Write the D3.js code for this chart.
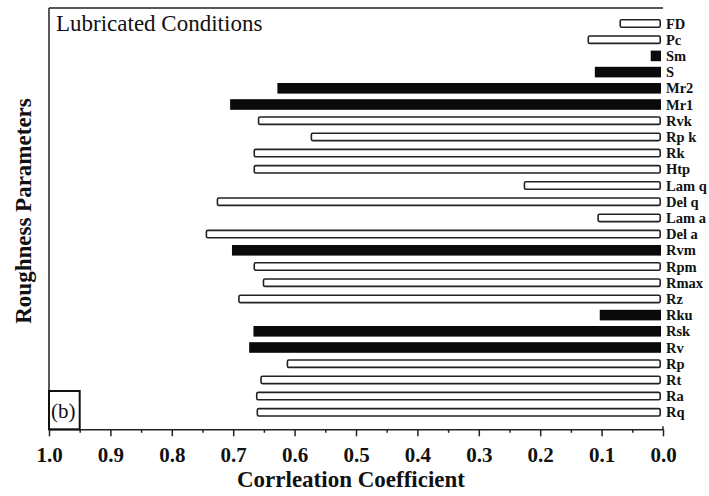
<!DOCTYPE html>
<html>
<head>
<meta charset="utf-8">
<script src="https://cdn.jsdelivr.net/npm/d3@7"></script>
<style>
  body { margin: 0; background: #fff; }
  text { font-family: "Liberation Serif", "Times New Roman", Times, serif; fill: #111; }
</style>
</head>
<body>
<div id="chart"></div>
<script>
'use strict';

// roughness parameters, top to bottom as in the figure
var params = ["FD", "Pc", "Sm", "S", "Mr2", "Mr1", "Rvk", "Rp k", "Rk", "Htp",
    "Lam q", "Del q", "Lam a", "Del a", "Rvm", "Rpm", "Rmax", "Rz", "Rku",
    "Rsk", "Rv", "Rp", "Rt", "Ra", "Rq"];

// correlation coefficient (magnitude)
var corr = [0.071, 0.123, 0.020, 0.111, 0.628, 0.705, 0.660, 0.574, 0.667, 0.667,
    0.227, 0.727, 0.107, 0.745, 0.702, 0.667, 0.652, 0.692, 0.103,
    0.667, 0.674, 0.613, 0.656, 0.663, 0.662];

// these are drawn as solid bars, the rest hollow
var filledParams = ["Sm", "S", "Mr2", "Mr1", "Rvm", "Rku", "Rsk", "Rv"];

var majorTicks = [1.0, 0.9, 0.8, 0.7, 0.6, 0.5, 0.4, 0.3, 0.2, 0.1, 0.0];
var minorTicks = [0.95, 0.85, 0.75, 0.65, 0.55, 0.45, 0.35, 0.25, 0.15, 0.05];

var serif = '"Liberation Serif", "Times New Roman", Times, serif';

var svgW = 709, svgH = 496,
    plotLeft = 49, plotRight = 663, frameTop = 8, axisY = 429.3;

var svg = d3.select("#chart").append("svg")
    .attr("width", svgW)
    .attr("height", svgH);

var x = d3.scaleLinear().domain([1, 0]).range([plotLeft, plotRight]);

var y = d3.scaleBand()
    .domain(params)
    .range([15.4, 420.4])
    .padding(0);

var rows = params.map(function(p, i) {
    return { name: p, value: corr[i], filled: filledParams.indexOf(p) >= 0 };
});

// bars
var bars = svg.append("g").attr("class", "bars");

bars.selectAll("rect.solid")
    .data(rows.filter(function(d) { return d.filled; }))
    .enter().append("rect")
    .attr("class", "solid")
    .attr("x", function(d) { return x(d.value); })
    .attr("width", function(d) { return x(0) - x(d.value) - 2; })
    .attr("y", function(d) { return y(d.name) + y.bandwidth() / 2 - 5.3; })
    .attr("height", 10.6)
    .style("fill", "#0a0a0a");

bars.selectAll("rect.hollow")
    .data(rows.filter(function(d) { return !d.filled; }))
    .enter().append("rect")
    .attr("class", "hollow")
    .attr("x", function(d) { return x(d.value) + 0.8; })
    .attr("width", function(d) { return x(0) - x(d.value) - 3.6; })
    .attr("y", function(d) { return y(d.name) + y.bandwidth() / 2 - 3.7; })
    .attr("height", 7.4)
    .attr("rx", 1.5)
    .style("fill", "#fff")
    .style("stroke", "#222")
    .style("stroke-width", 1.6);

// parameter names to the right of the bars
svg.append("g").selectAll("text")
    .data(params)
    .enter().append("text")
    .attr("x", plotRight + 3)
    .attr("y", function(d) { return y(d) + y.bandwidth() / 2 + 5; })
    .style("font-family", serif)
    .style("font-size", "14.5px")
    .style("font-weight", "bold")
    .text(function(d) { return d; });

// frame: top and left lines
svg.append("line")
    .attr("x1", plotLeft).attr("x2", plotRight)
    .attr("y1", frameTop).attr("y2", frameTop)
    .style("stroke", "#222").style("stroke-width", 1.5);

svg.append("line")
    .attr("x1", plotLeft).attr("x2", plotLeft)
    .attr("y1", frameTop).attr("y2", axisY)
    .style("stroke", "#222").style("stroke-width", 1.5);

// bottom axis
var xAxis = svg.append("g")
    .attr("transform", "translate(0," + axisY + ")")
    .call(d3.axisBottom(x)
        .tickValues(majorTicks)
        .tickSize(7)
        .tickSizeOuter(0)
        .tickFormat(d3.format(".1f")));

xAxis.select(".domain").style("stroke", "#222").style("stroke-width", 1.5);
xAxis.selectAll(".tick line").style("stroke", "#222").style("stroke-width", 1.5);
xAxis.selectAll(".tick text")
    .attr("y", 33).attr("dy", 0)
    .style("font-family", serif)
    .style("font-size", "21px")
    .style("font-weight", "bold")
    .style("fill", "#111");

var xMinor = svg.append("g")
    .attr("transform", "translate(0," + axisY + ")")
    .call(d3.axisBottom(x)
        .tickValues(minorTicks)
        .tickSize(3.5)
        .tickSizeOuter(0)
        .tickFormat(""));

xMinor.select(".domain").remove();
xMinor.selectAll(".tick line").style("stroke", "#222").style("stroke-width", 1.5);

// little upturn at the 0.0 end
svg.append("line")
    .attr("x1", x(0)).attr("x2", x(0))
    .attr("y1", axisY).attr("y2", axisY - 3)
    .style("stroke", "#222").style("stroke-width", 1.5);

// axis titles
svg.append("text")
    .attr("x", 351)
    .attr("y", 487)
    .style("text-anchor", "middle")
    .style("font-family", serif)
    .style("font-size", "23px")
    .style("font-weight", "bold")
    .text("Corrleation Coefficient");

svg.append("text")
    .attr("transform", "translate(31,211) rotate(-90)")
    .style("text-anchor", "middle")
    .style("font-family", serif)
    .style("font-size", "23px")
    .style("font-weight", "bold")
    .text("Roughness Parameters");

// panel title
svg.append("text")
    .attr("x", 56)
    .attr("y", 31)
    .style("font-family", serif)
    .style("font-size", "23px")
    .text("Lubricated Conditions");

// (b) panel tag in its box
svg.append("rect")
    .attr("x", x(1))
    .attr("y", 391)
    .attr("width", x(0.95) - x(1))
    .attr("height", axisY - 391)
    .style("fill", "none")
    .style("stroke", "#111")
    .style("stroke-width", 2);

svg.append("text")
    .attr("x", 51)
    .attr("y", 418)
    .style("font-family", serif)
    .style("font-size", "21px")
    .text("(b)");
</script>
</body>
</html>
